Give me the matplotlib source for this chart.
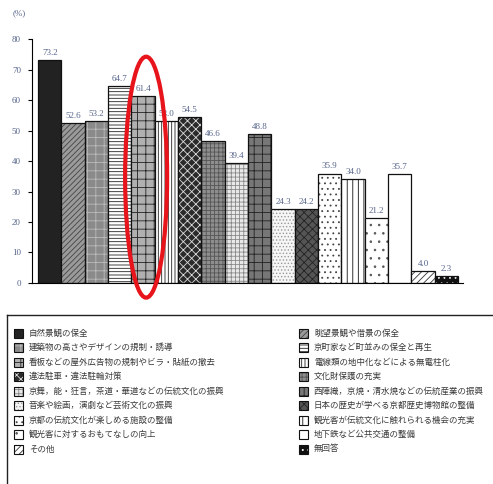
import matplotlib.pyplot as plt
from matplotlib.patches import Ellipse, Rectangle

# 選択肢 (凡例の順) と割合 (%)
labels = [
    "自然景観の保全", "眺望景観や借景の保全",
    "建築物の高さやデザインの規制・誘導", "京町家など町並みの保全と再生",
    "看板などの屋外広告物の規制やビラ・貼紙の撤去", "電線類の地中化などによる無電柱化",
    "違法駐車・違法駐輪対策", "文化財保護の充実",
    "京舞，能・狂言，茶道・華道などの伝統文化の振興", "西陣織，京焼・清水焼などの伝統産業の振興",
    "音楽や絵画，演劇など芸術文化の振興", "日本の歴史が学べる京都歴史博物館の整備",
    "京都の伝統文化が楽しめる施設の整備", "観光客が伝統文化に触れられる機会の充実",
    "観光客に対するおもてなしの向上", "地下鉄など公共交通の整備",
    "その他", "無回答",
]
values = [73.2, 52.6, 53.2, 64.7, 61.4, 53.0, 54.5, 46.6, 39.4,
          48.8, 24.3, 24.2, 35.9, 34.0, 21.2, 35.7, 4.0, 2.3]
yticks = [0, 10, 20, 30, 40, 50, 60, 70, 80]

# (face, hatch, hatch colour)
styles = [
    ("#222222", None, None),
    ("#9a9a9a", "//////", "#444444"),
    ("#8a8a8a", "++", "#bbbbbb"),
    ("#ffffff", "-----", "#222222"),
    ("#b0b0b0", "++", "#222222"),
    ("#ffffff", "|||||", "#222222"),
    ("#2a2a2a", "xxxx", "#dddddd"),
    ("#8e8e8e", "++++", "#555555"),
    ("#e8e8e8", "++++", "#888888"),
    ("#777777", "++", "#222222"),
    ("#f6f6f6", ".....", "#999999"),
    ("#555555", "xxxx", "#222222"),
    ("#ffffff", "...", "#444444"),
    ("#ffffff", "|||", "#111111"),
    ("#ffffff", "..", "#555555"),
    ("#ffffff", None, None),
    ("#ffffff", "/////", "#333333"),
    ("#111111", "...", "#ffffff"),
]

plt.rcParams['hatch.linewidth'] = 0.6
num_color = "#56648a"

fig = plt.figure(figsize=(4.93, 4.84), dpi=100)
ax = fig.add_axes([0.065, 0.4153, 0.874, 0.5041])

for i, (v, st) in enumerate(zip(values, styles)):
    face, hatch, hcol = st
    ax.bar(i, v, width=1.0, color=face, hatch=hatch,
           edgecolor=hcol if hcol else face, linewidth=0)
    ax.bar(i, v, width=1.0, fill=False, edgecolor="#111111", linewidth=0.9)
    ax.text(i, v + 1.0, f"{v:.1f}", ha="center", va="bottom",
            fontsize=6.5, family="Liberation Serif", color=num_color)

ax.set_xlim(-0.76, 17.71)
ax.set_ylim(0, 80)
ax.set_yticks(yticks)
ax.set_xticks([])
ax.tick_params(axis="y", length=3, width=0.8, labelsize=6.5,
               labelcolor=num_color, pad=5)
for t in ax.get_yticklabels():
    t.set_family("Liberation Serif")
ax.spines["top"].set_visible(False)
ax.spines["right"].set_visible(False)
ax.spines["left"].set_linewidth(0.8)
ax.spines["bottom"].set_linewidth(0.8)

fig.text(0.026, 0.972, "(%)", fontsize=6.5, family="Liberation Serif",
         color=num_color, va="center")

# 強調の赤い楕円
ax.add_patch(Ellipse((4.13, 34.7), 1.8, 79, fill=False, edgecolor="#e8141b",
                     linewidth=3, clip_on=False, zorder=10))

# 凡例 (2列)
W, H = 493, 484
fig.add_artist(plt.Line2D([7 / W, 1.0], [1 - 315 / H, 1 - 315 / H],
                          color="#222222", linewidth=1.0))
fig.add_artist(plt.Line2D([7 / W, 7 / W], [1 - 315 / H, 0.0],
                          color="#222222", linewidth=1.0))
for k, (lab, st) in enumerate(zip(labels, styles)):
    row, col = divmod(k, 2)
    yc = 333 + row * 14.5
    xs = 14 if col == 0 else 299
    face, hatch, hcol = st
    fig.add_artist(Rectangle((xs / W, 1 - (yc + 4.5) / H), 9 / W, 9 / H,
                             facecolor=face, hatch=hatch,
                             edgecolor=hcol if hcol else face, linewidth=0))
    fig.add_artist(Rectangle((xs / W, 1 - (yc + 4.5) / H), 9 / W, 9 / H,
                             fill=False, edgecolor="#111111", linewidth=0.8))
    fig.text((xs + 15) / W, 1 - yc / H, lab, fontsize=6.1,
             family=["Noto Sans CJK JP", "DejaVu Sans"], color="#3a3a3a",
             va="center", ha="left")

fig.savefig("out.png", dpi=100)
